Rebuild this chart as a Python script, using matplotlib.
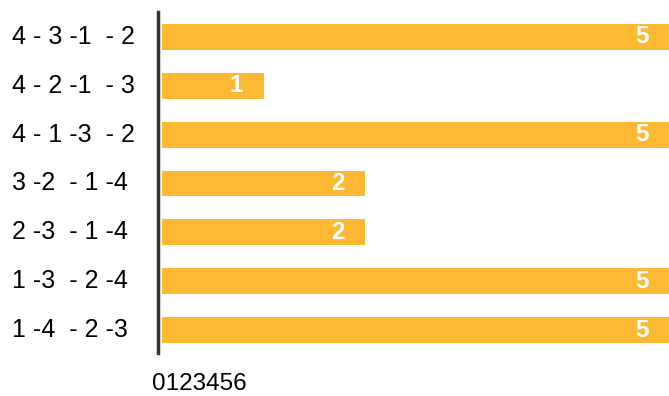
import matplotlib.pyplot as plt
from matplotlib.transforms import blended_transform_factory

# data
labels = ["1 -4  - 2 -3", "1 -3  - 2 -4", "2 -3  - 1 -4", "3 -2  - 1 -4",
          "4 - 1 -3  - 2", "4 - 2 -1  - 3", "4 - 3 -1  - 2"]
values = [5, 5, 2, 2, 5, 1, 5]
x_ticks = ["0", "1", "2", "3", "4", "5", "6"]

plt.rcParams['font.family'] = ['Liberation Sans', 'DejaVu Sans']

W, H = 669, 396
fig = plt.figure(figsize=(W / 100, H / 100), dpi=100)
ax = fig.add_axes([162 / W, 1 - 353 / H, (W - 162) / W, 341 / H])

ypos = list(range(len(labels)))
ax.barh(ypos, values, height=0.53, color="#FDB932")
ax.set_xlim(0, (W - 162) / 101.5)
ax.set_ylim(-0.47, 6.51)

# value labels inside bar ends
for y, v in zip(ypos, values):
    ax.annotate(str(v), (v, y), xytext=(-15, 0), textcoords="offset points",
                ha="right", va="center", color="white", fontsize=17.5,
                fontweight="bold")

# category labels, left aligned
tr = blended_transform_factory(fig.transFigure, ax.transData)
for y, lab in zip(ypos, labels):
    ax.text(12 / W, y, lab, transform=tr, ha="left", va="center",
            fontsize=18, color="black")

ax.set_yticks([])
ax.set_xticks([])
for s in ["top", "right", "bottom"]:
    ax.spines[s].set_visible(False)
ax.spines["left"].set_position(("outward", 3))
ax.spines["left"].set_linewidth(2.5)
ax.spines["left"].set_color("#333333")

# squashed x tick labels
fig.text(152 / W, 1 / H, "".join(x_ticks), ha="left", va="bottom",
         fontsize=17.5, color="black")

fig.savefig("out.png", dpi=100)
